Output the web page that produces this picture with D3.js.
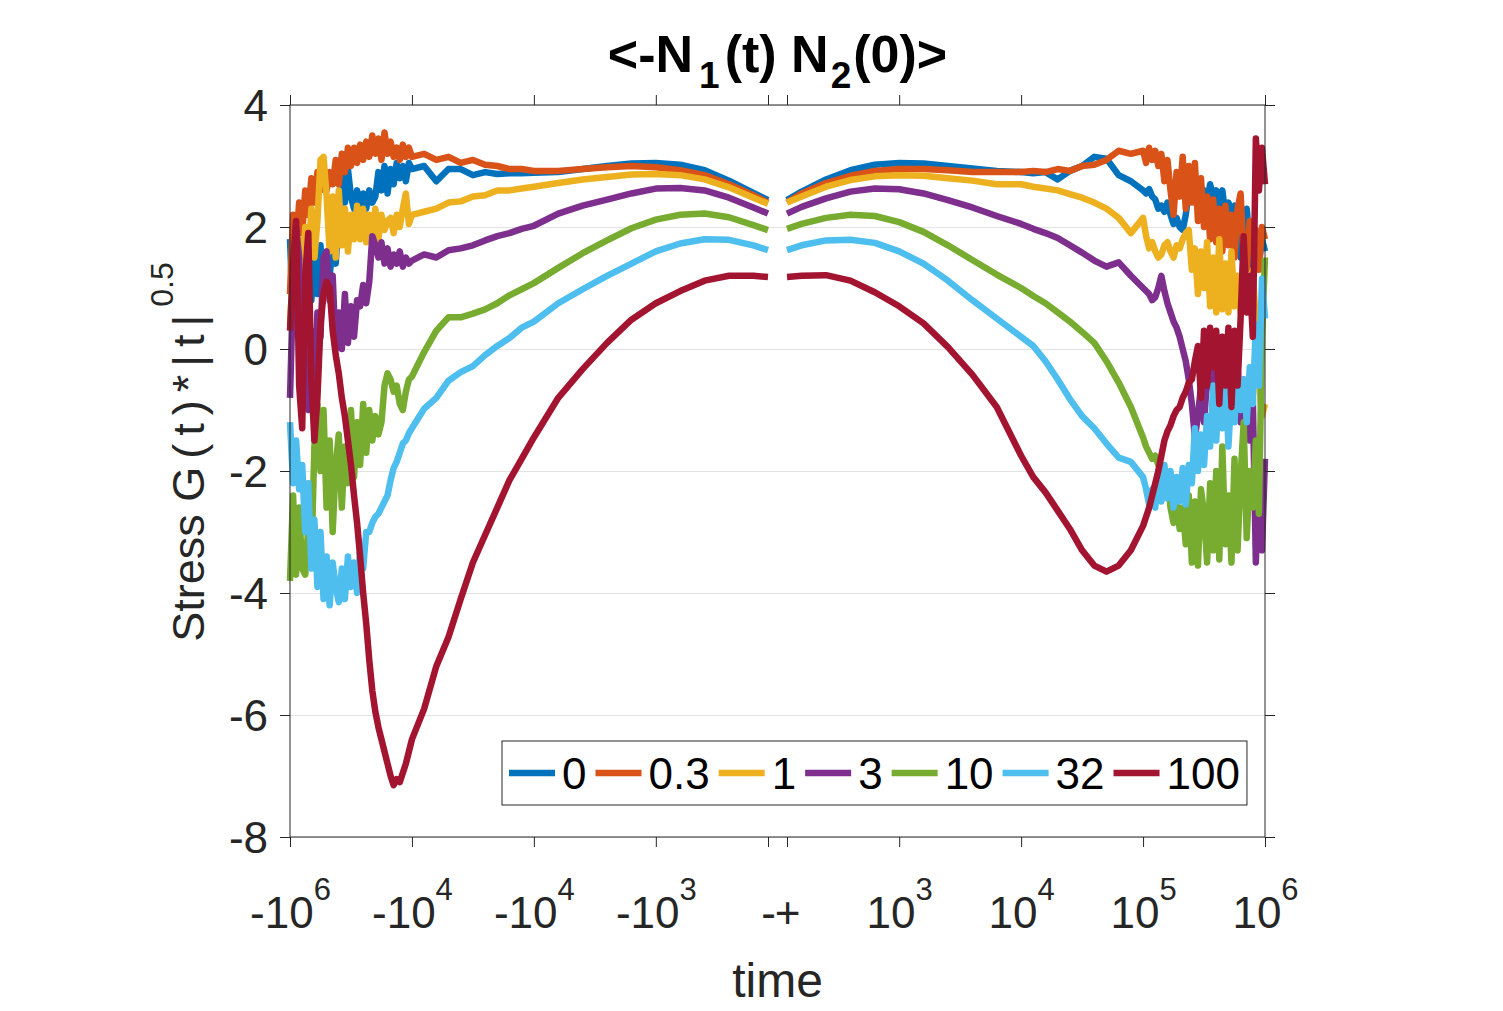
<!DOCTYPE html>
<html>
<head>
<meta charset="utf-8">
<script src="https://cdn.jsdelivr.net/npm/d3@7"></script>
<style>
body { margin: 0; background: #fff; }
svg { font-family: "Liberation Sans", Arial, Helvetica, sans-serif; }
</style>
</head>
<body>
<svg width="1503" height="1011"></svg>
<script>
// log10|t| sample points, negative side (left to right) and positive side
var logTNeg = [6.000,5.975,5.950,5.925,5.900,5.875,5.850,5.825,5.800,5.775,5.750,5.725,5.700,5.675,5.650,5.625,5.600,5.575,5.550,5.525,
               5.500,5.475,5.450,5.425,5.400,5.375,5.350,5.325,5.300,5.275,5.250,5.225,5.200,5.175,5.150,5.125,5.100,5.075,5.050,5.025,
               5.000,4.9,4.8,4.7,4.6,4.5,4.4,4.3,4.2,4.1,4.0,3.8,3.6,3.4,3.2,3.0,2.8,2.6,2.4,2.2,2.08];
var logTPos = [2.08,2.2,2.4,2.6,2.8,3.0,3.2,3.4,3.6,3.8,4.0,4.1,4.2,4.3,4.4,4.5,4.6,4.7,4.8,4.9,
               5.000,5.025,5.050,5.075,5.100,5.125,5.150,5.175,5.200,5.225,5.250,5.275,5.300,5.325,5.350,5.375,5.400,5.425,5.450,5.475,
               5.500,5.525,5.550,5.575,5.600,5.625,5.650,5.675,5.700,5.725,5.750,5.775,5.800,5.825,5.850,5.875,5.900,5.925,5.950,5.975,6.000];

var seriesNames = ["0", "0.3", "1", "3", "10", "32", "100"];
var colors = ["#0072BD", "#D95319", "#EDB120", "#7E2F8E", "#77AC30", "#4DBEEE", "#A2142F"];

var neg0 = [1.8,0.5,1.4,0.7,1.2,0.6,1.5,0.8,1.6,0.9,1.7,1.0,1.5,1.2,1.7,1.4,2.2,2.9,2.4,2.95,
            2.5,2.3,2.6,2.35,2.55,2.3,2.6,2.4,2.5,2.9,2.6,3.0,2.55,2.95,2.7,3.05,2.8,3.0,2.75,3.05,
            2.95,3.0,2.75,2.95,2.95,2.85,2.9,2.87,2.88,2.88,2.89,2.9,2.95,3.0,3.04,3.05,3.02,2.93,2.76,2.56,2.44];
var pos0 = [2.44,2.58,2.78,2.93,3.02,3.05,3.04,3.0,2.96,2.92,2.9,2.88,2.9,2.78,2.92,3.0,3.15,3.12,2.85,2.75,
            2.6,2.55,2.62,2.5,2.45,2.3,2.35,2.25,2.4,2.2,2.05,2.15,2.0,1.95,2.2,2.6,2.7,2.5,2.65,2.45,
            2.6,2.4,2.7,2.5,2.6,2.3,2.6,2.2,2.4,2.25,2.35,2.0,1.5,2.1,2.3,1.7,1.3,1.9,1.4,1.8,1.6];

var neg03 = [0.9,2.2,1.7,2.4,1.9,2.6,2.2,2.8,2.4,2.9,2.6,3.0,2.6,2.9,2.7,3.1,2.7,3.2,2.9,3.3,
             3.0,3.3,3.05,3.35,3.1,3.4,3.15,3.5,3.2,3.45,3.1,3.55,3.2,3.4,3.15,3.3,3.1,3.35,3.15,3.3,
             3.15,3.2,3.1,3.15,3.05,3.1,3.02,3.0,2.95,2.95,2.92,2.92,2.95,2.98,3.0,2.98,2.93,2.85,2.7,2.52,2.4];
var pos03 = [2.4,2.55,2.72,2.84,2.92,2.95,2.95,2.93,2.9,2.9,2.9,2.92,2.9,2.95,2.92,3.0,3.02,3.1,3.25,3.2,
             3.25,3.05,3.3,3.1,3.25,3.0,3.2,2.75,3.1,2.6,2.2,2.9,2.5,3.15,2.3,3.0,2.4,3.05,2.1,2.8,
             2.0,2.5,1.8,2.45,1.75,2.3,1.6,2.35,1.7,2.2,1.5,2.3,2.55,1.5,1.3,2.1,1.6,1.95,1.3,2.0,1.8];

var neg1 = [0.4,1.3,0.8,1.8,1.1,2.0,1.4,2.3,1.5,2.1,3.1,3.15,2.5,1.6,2.5,1.5,2.6,1.7,2.3,1.6,
            2.2,1.8,2.35,1.8,2.3,1.75,2.2,1.9,2.3,1.8,2.2,1.95,2.1,2.15,1.9,2.2,2.0,2.3,2.55,2.05,
            2.2,2.25,2.3,2.4,2.42,2.5,2.52,2.6,2.6,2.63,2.66,2.72,2.78,2.82,2.86,2.87,2.85,2.78,2.65,2.48,2.38];
var pos1 = [2.4,2.5,2.66,2.77,2.83,2.85,2.84,2.8,2.76,2.7,2.7,2.66,2.63,2.6,2.54,2.48,2.4,2.3,2.15,1.9,
            2.15,1.85,1.65,1.75,1.6,1.5,1.55,1.7,1.75,1.6,1.5,1.7,1.65,1.8,1.9,1.95,1.3,1.65,0.9,1.6,
            1.0,1.75,0.7,1.5,0.6,1.8,0.65,1.4,0.6,1.6,0.7,1.2,0.6,1.5,0.8,0.6,1.3,0.4,-0.5,-1.1,-0.9];

var neg3 = [-0.8,1.0,2.0,1.5,-0.2,0.5,-1.0,0.3,-0.6,0.6,0.2,1.5,1.6,0.8,1.2,0.0,0.6,0.0,0.9,0.1,
            0.7,0.2,0.8,0.7,1.05,0.75,1.1,1.85,1.7,1.5,1.75,1.4,1.65,1.35,1.55,1.4,1.6,1.35,1.5,1.4,
            1.45,1.55,1.5,1.62,1.65,1.7,1.78,1.85,1.9,1.97,2.02,2.22,2.35,2.45,2.55,2.63,2.64,2.6,2.48,2.32,2.22];
var pos3 = [2.22,2.33,2.47,2.58,2.63,2.62,2.55,2.44,2.32,2.18,2.05,1.97,1.9,1.82,1.7,1.58,1.45,1.35,1.42,1.2,
            1.0,0.95,0.9,0.8,0.85,1.0,1.2,0.95,0.75,0.6,0.45,0.35,0.2,0.0,-0.2,-0.5,-0.9,-1.45,-1.1,-0.6,
            -1.2,-0.5,-0.2,-0.7,0.1,-0.3,-0.8,-0.2,0.0,-0.6,-0.9,-0.3,-1.2,-0.5,-1.0,-1.5,-0.8,-3.5,-2.0,-3.3,-1.8];

var neg10 = [-3.8,-2.4,-3.7,-2.6,-3.6,-3.7,-2.9,-3.5,-1.6,-0.9,-2.0,-1.0,-2.6,-1.5,-3.0,-1.9,-1.4,-2.6,-1.6,-2.2,
             -1.0,-2.1,-1.2,-1.9,-0.9,-1.7,-1.0,-1.5,-1.1,-1.4,-1.2,-0.6,-0.4,-0.5,-0.7,-0.6,-0.9,-1.0,-0.7,-0.5,
             -0.45,-0.05,0.3,0.52,0.52,0.58,0.65,0.75,0.88,0.98,1.08,1.33,1.57,1.78,1.98,2.12,2.2,2.22,2.16,2.03,1.95];
var pos10 = [1.97,2.05,2.15,2.2,2.18,2.08,1.92,1.7,1.46,1.22,1.0,0.87,0.75,0.6,0.45,0.28,0.1,-0.2,-0.55,-0.95,
             -1.45,-1.6,-1.7,-1.8,-1.75,-1.9,-2.0,-2.1,-2.05,-2.6,-2.85,-2.5,-2.95,-2.6,-3.2,-2.4,-3.5,-2.5,-3.55,-2.3,
             -2.7,-3.5,-2.2,-3.3,-2.0,-3.45,-1.6,-3.2,-2.4,-3.5,-1.8,-3.3,-2.1,-1.2,-3.1,-2.0,-2.6,-1.5,-2.7,0.2,1.5];

var neg32 = [-1.2,-2.2,-1.5,-2.3,-1.9,-3.0,-2.2,-3.6,-2.8,-3.9,-3.0,-4.1,-3.4,-4.2,-3.5,-3.9,-4.15,-3.6,-4.1,-3.4,
             -3.9,-3.5,-4.0,-3.3,-3.6,-3.0,-3.0,-2.85,-2.75,-2.7,-2.6,-2.5,-2.4,-2.15,-1.95,-1.85,-1.7,-1.55,-1.5,-1.38,
             -1.3,-0.98,-0.8,-0.52,-0.38,-0.28,-0.1,0.05,0.18,0.35,0.45,0.75,0.98,1.2,1.4,1.6,1.73,1.8,1.79,1.7,1.62];
var pos32 = [1.62,1.7,1.78,1.79,1.74,1.6,1.4,1.12,0.8,0.5,0.2,0.05,-0.2,-0.5,-0.82,-1.1,-1.3,-1.55,-1.78,-1.85,
             -2.1,-2.3,-2.55,-2.3,-2.6,-2.0,-2.5,-1.9,-2.45,-2.0,-2.6,-2.1,-2.5,-1.95,-2.55,-1.9,-2.2,-1.3,-2.0,-1.4,
             -1.9,-1.1,-1.6,-0.6,-1.5,-0.5,-1.3,-0.4,-1.6,-0.7,-1.2,-0.3,-1.0,-0.5,-1.2,-0.3,-0.9,0.4,-0.6,1.15,0.5];

var neg100 = [0.3,1.4,2.1,-0.6,-1.3,1.2,1.9,-0.5,-1.5,-0.8,0.4,0.9,1.1,1.0,0.3,-0.1,-0.4,-0.8,-1.1,-1.5,
              -1.9,-2.4,-2.85,-3.4,-4.0,-4.5,-5.1,-5.6,-5.95,-6.2,-6.4,-6.6,-6.8,-7.0,-7.15,-7.05,-7.1,-6.95,-6.8,-6.6,
              -6.4,-5.9,-5.2,-4.72,-4.1,-3.5,-3.05,-2.6,-2.15,-1.8,-1.45,-0.8,-0.33,0.1,0.48,0.75,0.95,1.12,1.2,1.2,1.18];
var pos100 = [1.18,1.2,1.21,1.12,0.93,0.7,0.42,0.03,-0.42,-0.95,-1.75,-2.1,-2.35,-2.65,-2.95,-3.3,-3.55,-3.65,-3.55,-3.3,
              -2.9,-2.75,-2.6,-2.4,-2.2,-2.0,-1.75,-1.5,-1.35,-1.25,-1.1,-1.0,-0.95,-0.8,-0.7,-0.55,-0.5,-0.2,0.05,-0.8,
              0.3,-0.6,0.35,-0.3,0.3,-0.9,0.2,-0.6,0.35,-0.95,0.3,-0.6,0.5,1.85,0.6,1.2,0.2,3.45,2.6,3.3,2.7];

var negValues = [neg0, neg03, neg1, neg3, neg10, neg32, neg100];
var posValues = [pos0, pos03, pos1, pos3, pos10, pos32, pos100];

var yTicks = [-8, -6, -4, -2, 0, 2, 4];
var negTicks = [6, 5, 4, 3, 2.08];
var posTicks = [2.08, 3, 4, 5, 6];
var negTickLabels = [["-10", "6"], ["-10", "4"], ["-10", "4"], ["-10", "3"], ["-", ""]];
var posTickLabels = [["+", ""], ["10", "3"], ["10", "4"], ["10", "5"], ["10", "6"]];

var axisColor = "#262626";

var svg = d3.select("svg"),
    margin = {top: 105, right: 238, bottom: 174, left: 290},
    width = +svg.attr("width") - margin.left - margin.right,
    height = +svg.attr("height") - margin.top - margin.bottom,
    g = svg.append("g").attr("transform", "translate(" + margin.left + "," + margin.top + ")");

var gap = 19,
    half = (width - gap) / 2;

var xNeg = d3.scaleLinear().domain([6, 2.08]).range([0, half]),
    xPos = d3.scaleLinear().domain([2.08, 6]).range([half + gap, width]),
    yScale = d3.scaleLinear().domain([-8, 4]).range([height, 0]);

// horizontal grid
g.append("g")
    .attr("class", "grid")
    .call(d3.axisLeft(yScale).tickValues(yTicks).tickSize(-width).tickFormat(""))
    .call(function(s) {
        s.select(".domain").remove();
        s.selectAll("line").attr("stroke", "#e3e3e3").attr("stroke-width", 1);
    });

// curves
var lineNeg = d3.line()
    .x(function(d) { return xNeg(d[0]); })
    .y(function(d) { return yScale(d[1]); });
var linePos = d3.line()
    .x(function(d) { return xPos(d[0]); })
    .y(function(d) { return yScale(d[1]); });

seriesNames.forEach(function(name, i) {
    var s = g.append("g").attr("class", "series");
    s.append("path")
        .attr("d", lineNeg(d3.zip(logTNeg, negValues[i])))
        .attr("fill", "none")
        .attr("stroke", colors[i])
        .attr("stroke-width", 6.5)
        .attr("stroke-linejoin", "round");
    s.append("path")
        .attr("d", linePos(d3.zip(logTPos, posValues[i])))
        .attr("fill", "none")
        .attr("stroke", colors[i])
        .attr("stroke-width", 6.5)
        .attr("stroke-linejoin", "round");
});

function styleAxis(s) {
    s.attr("font-family", null).attr("font-size", null);
    s.select(".domain").remove();
    s.selectAll(".tick line").attr("stroke", axisColor);
    s.selectAll(".tick text").attr("fill", axisColor).attr("font-size", 44);
}

function supLabels(labels) {
    return function(s) {
        s.selectAll(".tick text").each(function(d, i) {
            var t = d3.select(this).text(null).attr("y", 91).attr("dy", null);
            t.append("tspan").text(labels[i][0]);
            if (labels[i][1]) {
                t.append("tspan").attr("dy", -28).attr("font-size", 31).text(labels[i][1]);
            }
        });
    };
}

// bottom axes (two halves)
g.append("g")
    .attr("transform", "translate(0," + height + ")")
    .call(d3.axisBottom(xNeg).tickValues(negTicks).tickSize(10))
    .call(styleAxis)
    .call(supLabels(negTickLabels));
g.append("g")
    .attr("transform", "translate(0," + height + ")")
    .call(d3.axisBottom(xPos).tickValues(posTicks).tickSize(10))
    .call(styleAxis)
    .call(supLabels(posTickLabels));

// top axes
g.append("g")
    .call(d3.axisTop(xNeg).tickValues(negTicks).tickSize(10).tickFormat(""))
    .call(styleAxis);
g.append("g")
    .call(d3.axisTop(xPos).tickValues(posTicks).tickSize(10).tickFormat(""))
    .call(styleAxis);

// left / right axes
g.append("g")
    .call(d3.axisLeft(yScale).tickValues(yTicks).tickSize(10).tickPadding(12)
        .tickFormat(function(d) { return String(d); }))
    .call(styleAxis)
    .call(function(s) { s.selectAll(".tick text").attr("dy", "0.35em"); });
g.append("g")
    .attr("transform", "translate(" + width + ",0)")
    .call(d3.axisRight(yScale).tickValues(yTicks).tickSize(10).tickFormat(""))
    .call(styleAxis);

// box
g.append("rect")
    .attr("width", width)
    .attr("height", height)
    .attr("fill", "none")
    .attr("stroke", axisColor)
    .attr("stroke-width", 1);

// title
var title = svg.append("text")
    .attr("x", margin.left + width / 2)
    .attr("y", 72)
    .attr("text-anchor", "middle")
    .attr("font-weight", "bold")
    .attr("font-size", 52)
    .attr("fill", "#000");
title.append("tspan").text("<-N");
title.append("tspan").attr("dx", 6).attr("dy", 16).attr("font-size", 37).text("1");
title.append("tspan").attr("dx", 5).attr("dy", -16).text("(t) N");
title.append("tspan").attr("dx", 2).attr("dy", 16).attr("font-size", 37).text("2");
title.append("tspan").attr("dx", 2).attr("dy", -16).text("(0)>");

// axis labels
svg.append("text")
    .attr("x", margin.left + width / 2)
    .attr("y", 997)
    .attr("text-anchor", "middle")
    .attr("font-size", 48)
    .attr("fill", axisColor)
    .text("time");

var ylab = svg.append("text")
    .attr("transform", "translate(204,452) rotate(-90)")
    .attr("text-anchor", "middle")
    .attr("font-size", 45)
    .attr("fill", axisColor);
ylab.append("tspan").text("Stress ");
ylab.append("tspan").attr("letter-spacing", 8).text("G(t)*|t|");
ylab.append("tspan").attr("dx", 0).attr("dy", -31).attr("font-size", 32).text("0.5");

// legend
var legend = svg.append("g").attr("class", "legend");
var legendBox = legend.append("rect")
    .attr("y", 741)
    .attr("height", 64)
    .attr("fill", "#fff")
    .attr("stroke", axisColor)
    .attr("stroke-width", 1);
var lx = 509;
seriesNames.forEach(function(name, i) {
    legend.append("line")
        .attr("x1", lx).attr("x2", lx + 46)
        .attr("y1", 773).attr("y2", 773)
        .attr("stroke", colors[i])
        .attr("stroke-width", 6.5);
    var t = legend.append("text")
        .attr("x", lx + 53)
        .attr("y", 789)
        .attr("font-size", 44)
        .attr("fill", "#000")
        .text(name);
    lx += 53 + t.node().getComputedTextLength() + 9;
});
legendBox.attr("x", 502).attr("width", lx - 9 + 7 - 502);
</script>
</body>
</html>
